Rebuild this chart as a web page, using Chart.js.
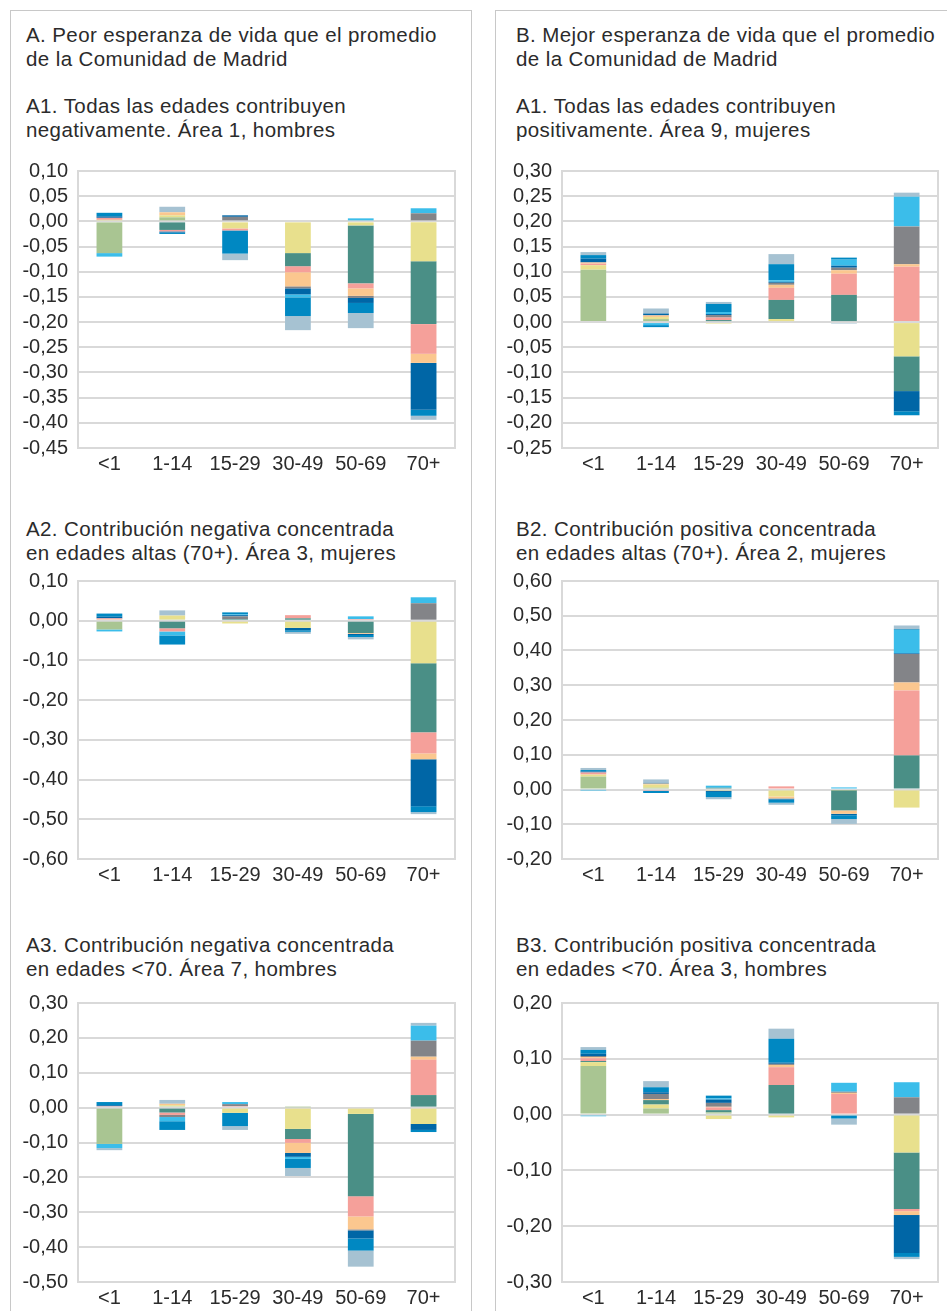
<!DOCTYPE html>
<html lang="es">
<head>
<meta charset="utf-8">
<script src="https://cdn.jsdelivr.net/npm/chart.js@4.4.0/dist/chart.umd.min.js"></script>
<style>
  body { margin: 0; width: 947px; height: 1311px; overflow: hidden; background: #fff;
         font-family: 'Liberation Sans', Arial, sans-serif; color: #2b2b2b; position: relative; }
  .panel { position: absolute; top: 10px; height: 1400px; border: 1px solid #c8c8c8; border-bottom: none; }
  .txt { position: absolute; font-size: 20.5px; line-height: 24px; letter-spacing: 0.4px; white-space: nowrap; }
  canvas { position: absolute; }
</style>
</head>
<body>
<div class="panel" style="left:10px; width:460px;"></div>
<div class="panel" style="left:495px; width:500px;"></div>

<div class="txt" style="left:26px; top:22.6px;">A. Peor esperanza de vida que el promedio<br>de la Comunidad de Madrid</div>
<div class="txt" style="left:516px; top:22.6px;">B. Mejor esperanza de vida que el promedio<br>de la Comunidad de Madrid</div>

<div class="txt" style="left:26px; top:94.2px;">A1. Todas las edades contribuyen<br>negativamente. Área 1, hombres</div>
<div class="txt" style="left:516px; top:94.2px;">A1. Todas las edades contribuyen<br>positivamente. Área 9, mujeres</div>
<div class="txt" style="left:26px; top:517.4px;">A2. Contribución negativa concentrada<br>en edades altas (70+). Área 3, mujeres</div>
<div class="txt" style="left:516px; top:517.4px;">B2. Contribución positiva concentrada<br>en edades altas (70+). Área 2, mujeres</div>
<div class="txt" style="left:26px; top:933.4px;">A3. Contribución negativa concentrada<br>en edades &lt;70. Área 7, hombres</div>
<div class="txt" style="left:516px; top:933.4px;">B3. Contribución positiva concentrada<br>en edades &lt;70. Área 3, hombres</div>

<canvas id="a1" width="452" height="329" style="left:12px; top:155px;"></canvas>
<canvas id="b1" width="450" height="329" style="left:497px; top:155px;"></canvas>
<canvas id="a2" width="452" height="330" style="left:12px; top:565px;"></canvas>
<canvas id="b2" width="450" height="330" style="left:497px; top:565px;"></canvas>
<canvas id="a3" width="452" height="331" style="left:12px; top:987px;"></canvas>
<canvas id="b3" width="450" height="331" style="left:497px; top:987px;"></canvas>

<script>
const edades = ['<1', '1-14', '15-29', '30-49', '50-69', '70+']

// stacking order of the cause groups, from zero outwards
const grupos = ['verde', 'amarillo', 'turquesa', 'rosa', 'naranja', 'gris', 'azulOscuro', 'celeste', 'azul', 'grisAzulado']
const colores = ['#A9C592', '#E8E08D', '#4A8F86', '#F5A09A', '#FBC78F', '#838488', '#0066A6', '#3BBDEA', '#0088C2', '#A6C2D2']

// one row per cause group, one value per age group
const valoresA1 = [
    [-0.063, 0.008, 0, 0.002, 0, 0],
    [0.003, 0.004, -0.014, -0.063, -0.008, -0.079],
    [0, -0.017, 0, -0.026, -0.115, -0.125],
    [0.004, -0.003, -0.004, -0.012, -0.010, -0.059],
    [0, 0.006, 0, -0.028, -0.015, -0.018],
    [0, 0, 0.009, -0.004, -0.004, 0.016],
    [0.003, -0.002, 0.003, -0.012, -0.010, -0.093],
    [-0.007, 0, 0, -0.006, 0.006, 0.010],
    [0.007, -0.003, -0.046, -0.037, -0.020, -0.012],
    [0, 0.011, -0.013, -0.028, -0.030, -0.008]
]
const valoresB1 = [
    [0.104, 0.006, 0, 0, 0, 0],
    [0.009, 0.004, -0.003, 0.006, 0, -0.068],
    [0, 0, 0.004, 0.038, 0.054, -0.069],
    [0.003, -0.002, 0.005, 0.024, 0.042, 0.110],
    [0.002, 0.003, 0, 0.006, 0.007, 0.005],
    [0.001, 0.001, 0.005, 0.004, 0.005, 0.075],
    [0.007, 0.003, 0.002, 0.002, 0.004, -0.040],
    [0, -0.004, 0.004, 0.003, 0.012, 0.059],
    [0.007, -0.004, 0.016, 0.032, 0.004, -0.008],
    [0.006, 0.010, 0.004, 0.020, -0.003, 0.008]
]
const valoresA2 = [
    [-0.022, 0.003, 0, 0, 0, 0],
    [0.003, 0.010, -0.007, -0.018, 0, -0.107],
    [0, -0.019, 0.004, 0.006, -0.031, -0.174],
    [0.003, -0.008, 0, 0.008, 0.004, -0.053],
    [0, 0, 0, 0, -0.002, -0.015],
    [0, 0, 0.007, 0, 0, 0.044],
    [0.004, 0, 0.003, -0.006, -0.003, -0.118],
    [-0.005, -0.010, 0.002, 0, 0.007, 0.015],
    [0.008, -0.023, 0.005, -0.004, -0.005, -0.015],
    [0, 0.013, 0, -0.005, -0.006, -0.005]
]
const valoresB2 = [
    [0.037, 0.005, 0, 0, 0, 0],
    [0.006, 0.009, -0.004, -0.020, -0.002, -0.052],
    [0, 0, 0.005, 0, -0.058, 0.098],
    [0.006, -0.004, 0, 0.009, 0, 0.187],
    [0, 0.003, 0, -0.006, -0.010, 0.023],
    [0, 0, 0, 0, 0, 0.082],
    [0.003, 0.002, -0.003, -0.003, -0.004, 0.002],
    [-0.001, 0, 0.006, 0, 0.006, 0.067],
    [0.004, -0.006, -0.015, -0.009, -0.011, 0.002],
    [0.006, 0.010, -0.006, -0.006, -0.014, 0.011]
]
const valoresA3 = [
    [-0.104, 0.004, 0, 0.001, 0, 0],
    [0, 0.003, -0.015, -0.061, -0.018, -0.047],
    [0, -0.014, 0, -0.029, -0.236, 0.036],
    [0.004, -0.007, 0.004, -0.011, -0.058, 0.101],
    [0, 0.004, 0, -0.029, -0.037, 0.009],
    [0, -0.006, 0.006, 0, -0.003, 0.046],
    [0.003, 0, 0, -0.011, -0.023, -0.017],
    [-0.012, -0.012, 0.006, -0.006, 0, 0.043],
    [0.009, -0.025, -0.038, -0.026, -0.035, -0.006],
    [-0.006, 0.011, -0.011, -0.023, -0.046, 0.008]
]
const valoresB3 = [
    [0.087, 0.011, 0.004, 0, 0, 0],
    [0.007, 0.007, -0.008, -0.005, 0, -0.068],
    [0.002, 0.008, 0.004, 0.053, 0, -0.101],
    [0.005, 0, 0.005, 0.032, 0.037, -0.004],
    [0.002, 0.002, 0.001, 0.004, 0.002, -0.007],
    [0.002, 0.009, 0.007, 0.002, 0.002, 0.031],
    [0.004, 0.003, 0.006, 0.002, 0, -0.068],
    [-0.003, 0, 0.002, 0, 0.016, 0.027],
    [0.007, 0.009, 0.005, 0.043, -0.007, -0.007],
    [0.005, 0.011, 0, 0.018, -0.011, -0.004]
]

// [min, max, step] of each y axis
const ejeA1 = [-0.45, 0.10, 0.05]
const ejeB1 = [-0.25, 0.30, 0.05]
const ejeA2 = [-0.60, 0.10, 0.10]
const ejeB2 = [-0.20, 0.60, 0.10]
const ejeA3 = [-0.50, 0.30, 0.10]
const ejeB3 = [-0.30, 0.20, 0.10]

const gridColor = '#d9d9d9'
const fontTicks = { family: "'Liberation Sans', Arial, sans-serif", size: 20 }

// closes the plot box (top and right edges included)
const marco = {
    id: 'marco',
    beforeDatasetsDraw(chart) {
        const { ctx, chartArea: a } = chart
        ctx.save()
        ctx.strokeStyle = gridColor
        ctx.lineWidth = 2
        ctx.strokeRect(a.left, a.top, a.right - a.left, a.bottom - a.top)
        ctx.restore()
    }
}

const crearGrafico = (id, valores, eje, anchoEje) => {
    const [min, max, step] = eje
    return new Chart(document.getElementById(id), {
        type: 'bar',
        data: {
            labels: edades,
            datasets: valores.map((fila, i) => ({
                label: grupos[i],
                data: fila,
                backgroundColor: colores[i],
                borderWidth: 0,
                barPercentage: 0.41,
                categoryPercentage: 1
            }))
        },
        options: {
            responsive: false,
            animation: false,
            layout: { padding: { top: 16, right: 9, left: 0, bottom: 0 } },
            plugins: { legend: { display: false }, tooltip: { enabled: false } },
            scales: {
                x: {
                    stacked: true,
                    grid: { display: false, drawTicks: false },
                    border: { display: false },
                    ticks: { color: '#2b2b2b', font: fontTicks, padding: 4, maxRotation: 0 },
                    afterFit: s => { s.height = 36 }
                },
                y: {
                    stacked: true,
                    min, max,
                    grid: { color: gridColor, lineWidth: 2, drawTicks: false },
                    border: { display: false },
                    ticks: {
                        stepSize: step,
                        maxTicksLimit: 20,
                        autoSkip: false,
                        color: '#2b2b2b',
                        font: fontTicks,
                        padding: 10,
                        callback: v => (Math.abs(v) < 1e-9 ? 0 : v).toFixed(2).replace('.', ',')
                    },
                    // fixed width, and the plot top/bottom come from layout padding only
                    afterFit: s => {
                        s.width = anchoEje
                        s.paddingTop = 0
                        s.paddingBottom = 0
                    }
                }
            }
        },
        plugins: [marco]
    })
}

crearGrafico('a1', valoresA1, ejeA1, 66)
crearGrafico('b1', valoresB1, ejeB1, 65)
crearGrafico('a2', valoresA2, ejeA2, 66)
crearGrafico('b2', valoresB2, ejeB2, 65)
crearGrafico('a3', valoresA3, ejeA3, 66)
crearGrafico('b3', valoresB3, ejeB3, 65)
</script>
</body>
</html>
